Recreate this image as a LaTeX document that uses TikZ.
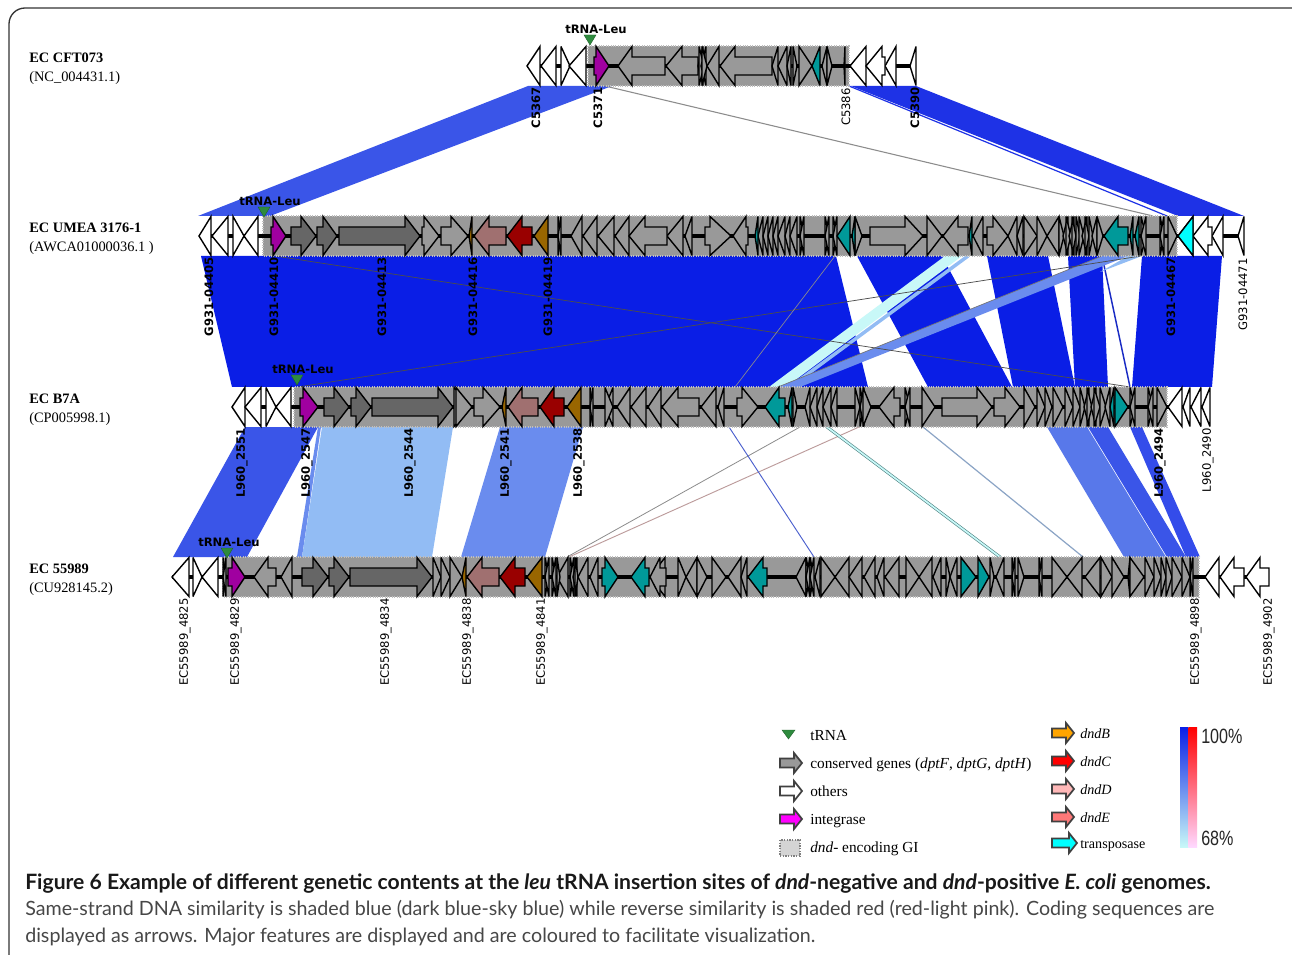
\documentclass[tikz,border=0pt]{standalone}
\usepackage{fontspec}
\usepackage{graphicx}
\newfontfamily\serf{Liberation Serif}
\newfontfamily\vera{DejaVu Sans}
\newfontfamily\capfont{Lato}
\newfontfamily\helv{Liberation Sans}
\definecolor{gi}{HTML}{999999}
\definecolor{dk}{HTML}{666666}
\definecolor{mg}{HTML}{A000A0}
\definecolor{teal2}{HTML}{009999}
\definecolor{rosy}{HTML}{A07070}
\definecolor{red2}{HTML}{990000}
\definecolor{org2}{HTML}{996600}
\definecolor{dblue}{HTML}{0A1EE6}
\definecolor{b2}{HTML}{1E32E6}
\definecolor{b3}{HTML}{3A55E8}
\definecolor{b4}{HTML}{5878EA}
\definecolor{b5}{HTML}{6A8CEE}
\definecolor{b6}{HTML}{92BCF4}
\definecolor{pale}{HTML}{C8F8F8}
\definecolor{trg}{HTML}{2E8B3E}
\definecolor{lcyan}{HTML}{00FFFF}
\definecolor{lmag}{HTML}{FF00FF}
\definecolor{lorg}{HTML}{FFA500}
\definecolor{lred}{HTML}{FF0000}
\definecolor{lpink}{HTML}{FFB8B8}
\definecolor{lsal}{HTML}{FF7878}
\newcounter{lb}
\tikzset{
 gene/.style={draw=black,line width=1.05pt,miter limit=4},
 spine/.style={draw=black,line width=3.2pt},
 ribbon/.style={fill=#1,draw=none},
 gilayer/.style={fill=gi,draw=gray!50,densely dotted,line width=.8pt},
 trnamark/.style={fill=trg,draw=trg!70!black,line width=.3pt},
 leg/.style={draw=black!75,line width=1.3pt},
}
\def\ty{0}
\newcommand\tris[2]{\foreach \a/\c in {#2}{\draw[gene,fill=#1] (\a,\ty-19.5)--(\c,\ty)--(\a,\ty+19.5)--cycle;}}
\newcommand\arrs[2]{\foreach \a/\b/\c in {#2}{\draw[gene,fill=#1] (\a,\ty-9)--(\b,\ty-9)--(\b,\ty-19.5)--(\c,\ty)--(\b,\ty+19.5)--(\b,\ty+9)--(\a,\ty+9)--cycle;}}
\newcommand\trna[3]{\stepcounter{lb}\node[font=\vera\bfseries\fontsize{8.7}{9}\selectfont,inner sep=0pt] (t\thelb) at (#1,#2) {tRNA-Leu};
 \draw[trnamark] (#3-6,#2+6)--(#3+6,#2+6)--(#3,#2+16)--cycle;}
\newcommand\blab[3]{\stepcounter{lb}\node[rotate=90,anchor=east,inner sep=0pt,font=\vera\bfseries\fontsize{8.7}{9}\selectfont] (g\thelb) at (#1+1,#2) {#3};}
\newcommand\plab[3]{\stepcounter{lb}\node[rotate=90,anchor=east,inner sep=0pt,font=\vera\fontsize{8.7}{9}\selectfont] (g\thelb) at (#1+1,#2) {#3};}
\newcommand\org[3]{\stepcounter{lb}\node[anchor=base west,inner sep=0pt,font=\serf\bfseries\fontsize{10.8}{12}\selectfont] (o\thelb) at (29,#1+5.5) {#2};
 \node[anchor=base west,inner sep=0pt,font=\serf\fontsize{10.8}{12}\selectfont] (p\thelb) at (29,#1+24.5) {#3};}
\newcommand\legarrow[4]{\draw[leg,fill=#4] (#1,#3-4.5)--(#2-8,#3-4.5)--(#2-8,#3-10)--(#2,#3)--(#2-8,#3+10)--(#2-8,#3+4.5)--(#1,#3+4.5)--cycle;}
\begin{document}
\begin{tikzpicture}[x=0.75pt,y=-0.75pt]
\useasboundingbox (0,0) rectangle (1292,955);
\clip (0,0) rectangle (1292,955);
\fill[white] (0,0) rectangle (1292,955);
\draw[black!80,line width=1pt,rounded corners=12pt] (9,8) rectangle (1320,985);
% ribbons 1-2
\fill[ribbon=b3] (528,86)--(612,86)--(270,216)--(198,216)--cycle;
\fill[ribbon=b2] (851,86)--(916,86)--(1244,216)--(1178,216)--cycle;
\draw[b2,line width=.9pt] (849,86)--(1167,216);
\draw[black!45,line width=.8pt] (605,86)--(1153,216);
% ribbons 2-3
\fill[ribbon=dblue] (201,256)--(836,256)--(868,387)--(232,387)--cycle;
\fill[ribbon=dblue] (857,256)--(942,256)--(1012,387)--(928,387)--cycle;
\fill[ribbon=dblue] (987,256)--(1048,256)--(1075,387)--(1013,387)--cycle;
\fill[ribbon=dblue] (1068,256)--(1102,256)--(1108,387)--(1075,387)--cycle;
\fill[ribbon=dblue] (1142,256)--(1222,256)--(1212,387)--(1132,387)--cycle;
\draw[b2!85!black,line width=1.1pt] (1102,256)--(1130,387);
\fill[ribbon=pale] (945,256)--(962,256)--(786,387)--(769,387)--cycle;
\draw[b6,line width=2.6pt] (968,256)--(790,387);
\fill[ribbon=b5] (1102,256)--(1128,256)--(800,387)--(778,387)--cycle;
\fill[b6] (1128,256)--(1142,256)--(1100,272)--cycle;
\draw[black!55,line width=.5pt] (1102,256)--(778,387);
\draw[black!70,line width=.55pt] (275,256)--(1130,387);
\draw[black!70,line width=.55pt] (298,387)--(1141,256);
\draw[black!45,line width=.5pt] (835,256)--(735,387);
% ribbons 3-4
\fill[ribbon=b3] (245,427)--(318,427)--(247,557)--(173,557)--cycle;
\fill[ribbon=b5] (318,427)--(321,427)--(302,557)--(297,557)--cycle;
\fill[ribbon=b6] (322,427)--(453,427)--(432,557)--(302,557)--cycle;
\fill[ribbon=b5] (500,427)--(583,427)--(545,557)--(461,557)--cycle;
\fill[ribbon=b4] (1047,427)--(1087,427)--(1166,557)--(1124,557)--cycle;
\fill[ribbon=b3] (1088,427)--(1108,427)--(1186,557)--(1167,557)--cycle;
\fill[ribbon=b3!90!blue] (1130,427)--(1142,427)--(1200,557)--(1186,557)--cycle;
\draw[black!45,line width=.6pt] (800,427)--(567,557);
\draw[rosy!70,line width=.7pt] (859,427)--(569,557);
\draw[b3!75!gray,line width=.7pt] (729,427)--(814,557);
\draw[gray!60!teal,line width=2.2pt] (827,427)--(1000,557);
\draw[pale,line width=1.3pt] (827,427)--(1000,557);
\draw[b6!60!gray,line width=.9pt] (923,427)--(1083,557);
% Track 1
\def\ty{66}
\draw[gilayer] (588,46) rectangle (849,86);
\draw[spine] (527,\ty)--(916,\ty);
\tris{white}{540/527,556/541,561/570,586/569,866/850,896/885,916/910}
\arrs{white}{885/882/866}
\arrs{gi}{665/632/618,698/682/666,772/735/720}
\tris{gi}{703/698,699/704,706/701,702/707,719/707,778/772,787/778,791/787,793/797,799/812,827/822,827/832,845/844}
\arrs{mg}{594/596/609}
\tris{teal2}{820/812}
% Track 2
\def\ty{236}
\draw[gilayer] (263,216) rectangle (1177,256);
\draw[spine] (199,\ty)--(1244,\ty);
\tris{white}{211/199,228/212,233/244,258/244,1193/1178,1223/1212,1244/1238}
\arrs{white}{1212/1208/1193}
\tris{gi}{558/561,561/558,582/571,597/583,614/598,629/615,683/667,692/685,
 763/758,768/763,773/768,778/773,785/778,790/785,797/790,800/804,804/800,
 825/829,829/825,833/837,837/833,927/942,983/973,1017/1008,1023/1017,1024/1037,1037/1047,1059/1047,
 1059/1064,1068/1063,1066/1071,1074/1069,1072/1076,1076/1080,1079/1084,1087/1082,1085/1089,1089/1093,1097/1092,1097/1103,
 1141/1146,1146/1141,1160/1164,1164/1160,1168/1177,855/862}
\arrs{gi}{422/424/439,441/451/468,667/645/629,705/710/731,748/746/733,870/905/923,968/958/943,987/993/1008}
\arrs{dk}{291/301/316,317/323/337,339/405/420}
\arrs{mg}{271/273/286}
\arrs{rosy}{506/489/474}
\arrs{red2}{532/522/507}
\tris{org2}{548/534,472/469}
\tris{teal2}{758/755,850/837,855/852,972/969,1133/1130,1139/1135}
\arrs{teal2}{1128/1118/1104}
\tris{lcyan}{1193/1178}
% Track 3
\def\ty{407}
\draw[gilayer] (294,387) rectangle (1167,427);
\draw[spine] (232,\ty)--(1210,\ty);
\tris{white}{245/232,261/245,266/276,291/276,1182/1168,1190/1183,1201/1191,1210/1202}
\tris{gi}{454/472,590/593,593/590,613/605,605/613,630/617,646/631,661/648,716/701,724/718,
 793/797,810/805,817/810,823/817,831/823,837/831,855/860,860/864,864/860,863/871,905/910,910/905,922/935,
 1024/1035,1037/1045,1045/1052,1053/1063,1065/1073,1073/1080,1080/1085,1089/1084,1087/1092,1096/1091,1094/1100,1100/1106,1110/1105,
 1130/1135,1135/1130,1148/1153,1153/1148,1157/1167}
\arrs{gi}{456/456/472,474/483/500,699/678/662,737/742/758,900/894/879,942/977/992,994/1005/1020}
\arrs{dk}{324/334/349,351/356/371,372/438/453}
\arrs{mg}{300/303/318}
\arrs{rosy}{538/522/508}
\arrs{red2}{564/554/540}
\tris{org2}{581/567,506/502}
\arrs{teal2}{785/779/765}
\tris{teal2}{792/788,1114/1110,1115/1128}
% Track 4
\def\ty{577}
\draw[gilayer] (223,557) rectangle (1199,597);
\draw[spine] (172,\ty)--(1269,\ty);
\tris{white}{189/172,193/202,218/202,1219/1205}
\arrs{white}{1244/1234/1220,1269/1260/1246}
\tris{gi}{223/226,226/223,292/281,433/441,441/450,450/462,
 545/549,549/545,552/556,556/552,568/557,557/560,570/574,574/570,577/573,575/578,588/578,598/590,
 665/650,678/686,697/686,697/707,741/728,747/741,
 806/796,806/810,810/806,810/814,814/810,820/815,821/835,849/835,862/849,875/864,884/877,899/885,906/919,932/919,941/933,
 946/950,957/950,990/994,1004/996,1012/1015,1015/1012,1018/1024,1039/1042,1042/1039,
 1052/1067,1082/1067,1100/1085,1101/1112,1112/1124,1130/1128,1130/1144,
 1145/1154,1154/1161,1161/1166,1166/1172,1172/1182,1182/1190,1190/1193,1193/1190}
\arrs{gi}{276/268/254,666/660/650,712/712/726}
\arrs{dk}{302/313/328,329/334/349,350/417/432}
\arrs{mg}{228/232/245}
\arrs{rosy}{499/482/467}
\arrs{red2}{525/515/500}
\tris{org2}{542/527,466/462}
\arrs{teal2}{602/605/618,649/645/631,767/763/748}
\tris{teal2}{961/976,978/989}
% tRNA
\trna{596}{29}{590}
\trna{270}{201}{264}
\trna{303}{369}{297}
\trna{229}{542}{227}
% Organism labels
\org{57}{EC CFT073}{(NC\_004431.1)}
\org{227}{EC UMEA 3176-1}{(AWCA01000036.1 )}
\org{398}{EC B7A}{(CP005998.1)}
\org{568}{EC 55989}{(CU928145.2)}
% gene labels
\blab{535}{87}{C5367}\blab{597}{87}{C5371}\plab{845}{88}{C5386}\blab{914}{87}{C5390}
\blab{208}{257}{G931-04405}\blab{273}{257}{G931-04410}\blab{381}{257}{G931-04413}\blab{472}{257}{G931-04416}\blab{547}{257}{G931-04419}\blab{1170}{257}{G931-04467}\plab{1242}{258}{G931-04471}
\blab{241}{428}{L960\_2551}\blab{306}{428}{L960\_2547}\blab{409}{428}{L960\_2544}\blab{505}{428}{L960\_2541}\blab{578}{428}{L960\_2538}\blab{1159}{428}{L960\_2494}\plab{1207}{428}{L960\_2490}
\plab{184}{598}{EC55989\_4825}\plab{235}{598}{EC55989\_4829}\plab{385}{598}{EC55989\_4834}\plab{467}{598}{EC55989\_4838}\plab{541}{598}{EC55989\_4841}\plab{1195}{598}{EC55989\_4898}\plab{1268}{598}{EC55989\_4902}
% legend
\draw[trnamark] (782,730)--(795,730)--(788.5,739)--cycle;
\legarrow{780}{802}{763}{gi}
\legarrow{780}{802}{791}{white}
\legarrow{780}{802}{819}{lmag}
\draw[gray,densely dotted,fill=black!17,line width=1pt] (780,840) rectangle (800,856);
\legarrow{1052}{1074}{733}{lorg}
\legarrow{1052}{1074}{761}{lred}
\legarrow{1052}{1074}{789}{lpink}
\legarrow{1052}{1074}{817}{lsal}
\legarrow{1052}{1077}{843}{lcyan}
\tikzset{lt/.style={anchor=base west,inner sep=0pt,font=\serf\fontsize{11.5}{13}\selectfont},
 lr/.style={anchor=base west,inner sep=0pt,font=\serf\fontsize{10.6}{13}\selectfont}}
\node[lt] (l1) at (810,740) {tRNA};
\node[lt] (l2) at (810,768) {conserved genes (\textit{dptF}, \textit{dptG}, \textit{dptH})};
\node[lt] (l3) at (810,796) {others};
\node[lt] (l4) at (810,824) {integrase};
\node[lt] (l5) at (810,852) {\textit{dnd}- encoding GI};
\node[lr] (r1) at (1080,738) {\textit{dndB}};
\node[lr] (r2) at (1080,766) {\textit{dndC}};
\node[lr] (r3) at (1080,794) {\textit{dndD}};
\node[lr] (r4) at (1080,822) {\textit{dndE}};
\node[lr] (r5) at (1080,848) {transposase};
\shade[top color=dblue,middle color=b5!80,bottom color=pale] (1180,727) rectangle (1188.5,847);
\shade[top color=lred,middle color=lsal,bottom color=lmag!15] (1188.5,727) rectangle (1197,847);
\node[anchor=west,inner sep=0pt,font=\helv\fontsize{15.5}{16}\selectfont,black!85] (p1) at (1201,736) {\scalebox{.78}[1]{100\%}};
\node[anchor=west,inner sep=0pt,font=\helv\fontsize{15.5}{16}\selectfont,black!85] (p2) at (1201,838) {\scalebox{.78}[1]{68\%}};
% caption
\node[anchor=base west,inner sep=0pt,font=\capfont\bfseries\fontsize{15.85}{18}\selectfont,black!90] (c1) at (25,889) {Figure 6 Example of different genetic contents at the \textit{leu} tRNA insertion sites of \textit{dnd}-negative and \textit{dnd}-positive \textit{E. coli} genomes.};
\node[anchor=base west,inner sep=0pt,font=\capfont\fontsize{14.75}{18}\selectfont,black!72] (c2) at (25,915) {Same-strand DNA similarity is shaded blue (dark blue-sky blue) while reverse similarity is shaded red (red-light pink). Coding sequences are};
\node[anchor=base west,inner sep=0pt,font=\capfont\fontsize{14.75}{18}\selectfont,black!72] (c3) at (25,942) {displayed as arrows. Major features are displayed and are coloured to facilitate visualization.};
\end{tikzpicture}
\end{document}
